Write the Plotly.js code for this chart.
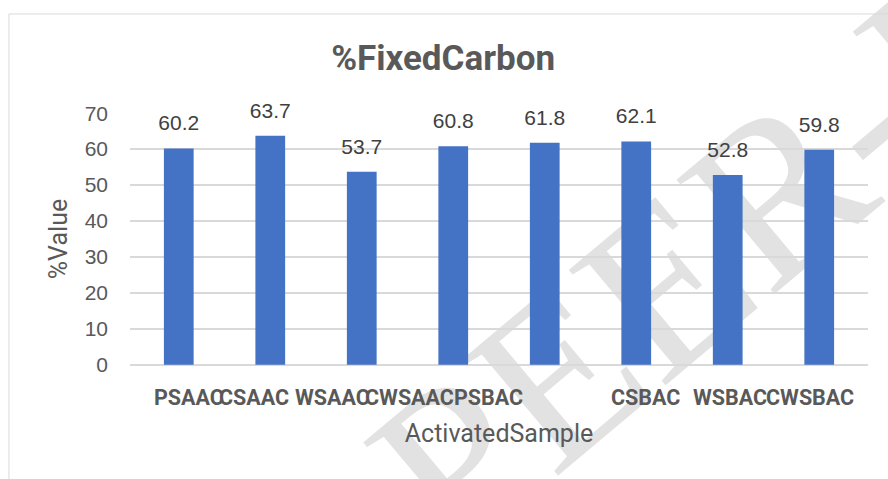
<!DOCTYPE html>
<html>
<head>
<meta charset="utf-8">
<script src="https://cdn.plot.ly/plotly-3.0.1.min.js"></script>
<style>
  html, body { margin: 0; padding: 0; background: #ffffff; }
  #chart { width: 888px; height: 479px; }
</style>
</head>
<body>
<div id="chart"></div>
<script>
// ---- data ----
const categories = ['PSAAC', 'CSAAC', 'WSAAC', 'CWSAAC', 'PSBAC', 'CSBAC', 'WSBAC', 'CWSBAC'];
const fixedCarbon = [60.2, 63.7, 53.7, 60.8, 61.8, 62.1, 52.8, 59.8];
const yTickValues = [0, 10, 20, 30, 40, 50, 60, 70];
const chartTitle = '%FixedCarbon';
const xTitle = 'ActivatedSample';
const yTitle = '%Value';

// ---- styling ----
const narrow = 'Roboto, "DejaVu Sans Condensed", sans-serif';
const regular = '"Liberation Sans", Arial, sans-serif';
const textGray = '#595959';
const gridGray = '#d9d9d9';
const barBlue = '#4472c4';
// horizontal nudges of the category labels, as they sit in the reference
const labelShift = [10, -16.5, -29.5, -43.5, -56.5, 9, 2.5, -9.5];

const bars = {
  type: 'bar',
  x: categories,
  y: fixedCarbon,
  marker: { color: barBlue },
  hoverinfo: 'x+y'
};

const valueLabels = {
  type: 'scatter',
  mode: 'markers+text',
  x: categories,
  y: fixedCarbon,
  text: fixedCarbon.map(v => v.toFixed(1)),
  textposition: 'top center',
  textfont: { family: regular, size: 21, color: '#404040' },
  marker: { size: 19, opacity: 0 },
  cliponaxis: false,
  hoverinfo: 'skip'
};

const categoryLabels = categories.map((c, i) => ({
  x: c, xref: 'x',
  y: 0, yref: 'paper',
  yanchor: 'middle', xanchor: 'center',
  yshift: -32, xshift: labelShift[i],
  text: c,
  showarrow: false,
  font: { family: narrow, size: 21.5, color: textGray, weight: 'bold' }
}));

const watermarkSvg =
  '<svg xmlns="http://www.w3.org/2000/svg" width="888" height="479" viewBox="0 0 888 479">' +
  '<text x="455" y="562" transform="rotate(-40 455 562)" font-family="Liberation Serif, DejaVu Serif, serif" ' +
  'font-size="230" fill="#e2e2e2">PEER-REVIEWED</text></svg>';

const layout = {
  width: 888,
  height: 479,
  paper_bgcolor: '#ffffff',
  plot_bgcolor: 'rgba(0,0,0,0)',
  margin: { l: 130, r: 20, t: 113, b: 114, pad: 0 },
  showlegend: false,
  bargap: 0.675,
  title: {
    text: chartTitle,
    font: { family: narrow, size: 35, color: textGray, weight: 'bold' },
    x: 0.499, xref: 'container', xanchor: 'center',
    y: 0.879, yref: 'container', yanchor: 'middle'
  },
  xaxis: {
    type: 'category',
    showticklabels: false,
    showgrid: false,
    zeroline: false,
    showline: false,
    ticks: '',
    automargin: false,
    title: { text: xTitle, font: { family: narrow, size: 25, color: textGray }, standoff: 59 }
  },
  yaxis: {
    range: [-0.05, 70.05],
    tickvals: yTickValues,
    ticktext: yTickValues.map(String),
    showgrid: true,
    gridcolor: gridGray,
    gridwidth: 2,
    zeroline: true,
    zerolinecolor: gridGray,
    zerolinewidth: 2,
    showline: false,
    ticks: '',
    ticklabelstandoff: 21,
    tickfont: { family: regular, size: 21, color: textGray },
    automargin: false,
    title: { text: yTitle, font: { family: narrow, size: 25, color: textGray }, standoff: 9 }
  },
  annotations: categoryLabels,
  shapes: [{
    type: 'rect', xref: 'paper', yref: 'paper', layer: 'below',
    x0: -0.164, x1: 1.05, y0: -0.5, y1: 1.393,
    line: { color: gridGray, width: 1 }, fillcolor: 'rgba(0,0,0,0)'
  }],
  images: [{
    source: 'data:image/svg+xml;charset=utf-8,' + encodeURIComponent(watermarkSvg),
    xref: 'paper', yref: 'paper',
    x: -130 / 738, y: 365 / 252,
    sizex: 888 / 738, sizey: 479 / 252,
    xanchor: 'left', yanchor: 'top',
    sizing: 'stretch', layer: 'below', opacity: 1
  }]
};

Plotly.newPlot('chart', [bars, valueLabels], layout, { displayModeBar: false, responsive: false });
</script>
</body>
</html>
